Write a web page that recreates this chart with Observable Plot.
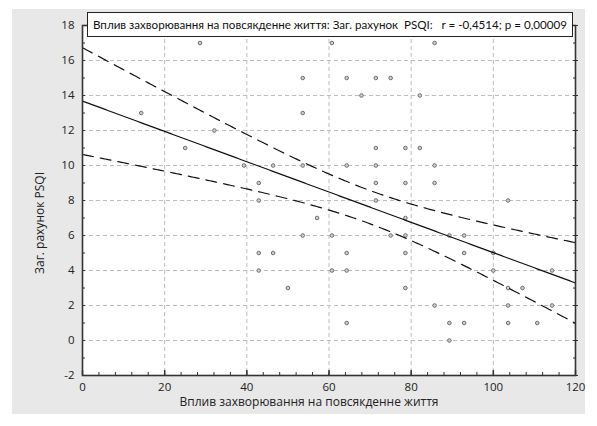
<!DOCTYPE html>
<html><head><meta charset="utf-8">
<script src="https://cdn.jsdelivr.net/npm/d3@7"></script>
<script src="https://cdn.jsdelivr.net/npm/@observablehq/plot@0.6"></script>
<style>
body{margin:0;background:#fff;}
#wrap{position:relative;width:597px;height:426px;overflow:hidden;}
#panel{position:absolute;left:12px;top:9px;width:573px;height:405px;background:#e8e8e8;}
#chart{position:absolute;left:0;top:0;}
</style></head><body>
<div id="wrap"><div id="panel"></div><div id="chart"></div></div>
<script>
const xValues = [14.3, 25, 28.6, 32.1, 39.3,
  42.9, 42.9, 42.9, 42.9, 46.4, 46.4, 50,
  53.6, 53.6, 53.6, 53.6, 57.1, 60.7, 60.7, 60.7,
  64.3, 64.3, 64.3, 64.3, 64.3, 67.9,
  71.4, 71.4, 71.4, 71.4, 71.4, 75, 75,
  78.6, 78.6, 78.6, 78.6, 78.6, 78.6, 82.1, 82.1,
  85.7, 85.7, 85.7, 85.7, 89.3, 89.3, 89.3,
  92.9, 92.9, 92.9, 100, 100,
  103.6, 103.6, 103.6, 103.6, 107.1, 110.7, 114.3, 114.3];
const yValues = [13, 11, 17, 12, 10,
  9, 8, 5, 4, 10, 5, 3,
  15, 13, 10, 6, 7, 17, 6, 4,
  15, 10, 5, 4, 1, 14,
  15, 11, 10, 9, 8, 15, 6,
  11, 9, 7, 6, 5, 3, 14, 11,
  17, 10, 9, 2, 6, 1, 0,
  6, 5, 1, 5, 4,
  8, 3, 2, 1, 3, 1, 4, 2];
// regression line and 95% confidence band
const fitIntercept = 13.68;
const fitSlope = -0.0866;
const bandCenterX = 69.6;
const bandHalfWidthAtCenter = 0.95;
const bandHalfWidthAtZero = 3.05;

const xTicks = [0, 20, 40, 60, 80, 100, 120];
const yTicks = [-2, 0, 2, 4, 6, 8, 10, 12, 14, 16, 18];
const xMinorTicks = [0, 4, 8, 12, 16, 20, 24, 28, 32, 36, 40, 44, 48, 52, 56, 60, 64, 68, 72, 76, 80, 84, 88, 92, 96, 100, 104, 108, 112, 116, 120];
const yMinorTicks = [-2, -1, 0, 1, 2, 3, 4, 5, 6, 7, 8, 9, 10, 11, 12, 13, 14, 15, 16, 17, 18];
const titleText = "Вплив захворювання на повсякденне життя: Заг. рахунок  PSQI:   r = -0,4514; p = 0,00009";
const xLabel = "Вплив захворювання на повсякденне життя";
const yLabel = "Заг. рахунок PSQI";

const points = xValues.map((x, i) => ({x, y: yValues[i]}));
const k = (bandHalfWidthAtZero ** 2 - bandHalfWidthAtCenter ** 2) / (bandCenterX ** 2);
const band = d3.range(0, 120.25, 0.5).map(x => {
  const fit = fitIntercept + fitSlope * x;
  const h = Math.sqrt(bandHalfWidthAtCenter ** 2 + k * (x - bandCenterX) ** 2);
  return {x, fit, lo: fit - h, hi: fit + h};
});

const plot = Plot.plot({
  width: 597, height: 426,
  marginLeft: 82, marginRight: 22, marginTop: 25, marginBottom: 51,
  x: {domain: [0, 120]},
  y: {domain: [-2, 18]},
  style: {background: "transparent", fontFamily: "Open Sans", fontSize: "12px", color: "#222"},
  marks: [
    Plot.frame({fill: "white"}),
    Plot.gridX(xTicks.slice(1, -1), {stroke: "#bdbdbd", strokeOpacity: 1, strokeDasharray: "4,3"}),
    Plot.gridY(yTicks.slice(1, -1), {stroke: "#bdbdbd", strokeOpacity: 1, strokeDasharray: "4,3"}),
    Plot.dot(points, {x: "x", y: "y", r: 1.8, stroke: "#6e6e6e", fill: "#cfcfcf", strokeWidth: 1}),
    Plot.line(band, {x: "x", y: "hi", stroke: "#111", strokeWidth: 1.2, strokeDasharray: "11,7", clip: true}),
    Plot.line(band, {x: "x", y: "lo", stroke: "#111", strokeWidth: 1.2, strokeDasharray: "11,7", clip: true}),
    Plot.line(band, {x: "x", y: "fit", stroke: "#111", strokeWidth: 1.2, clip: true}),
    Plot.frame({stroke: "#333", strokeWidth: 1.6}),
    Plot.axisX(xTicks, {anchor: "bottom", tickSize: 0, tickPadding: 7, label: null, fontSize: 11.5, tickFormat: d => String(d)}),
    Plot.axisY(yTicks, {anchor: "left", tickSize: 0, tickPadding: 8, label: null, fontSize: 11.5, tickFormat: d => String(d)}),
    Plot.axisX(xMinorTicks, {anchor: "bottom", tickSize: -3, text: null, label: null, stroke: "#333"}),
    Plot.axisX(xTicks, {anchor: "bottom", tickSize: -5, text: null, label: null, stroke: "#333", strokeWidth: 1.5}),
    Plot.axisY(yMinorTicks, {anchor: "left", tickSize: -3, text: null, label: null, stroke: "#333"}),
    Plot.axisY(yMinorTicks, {anchor: "right", tickSize: -3, text: null, label: null, stroke: "#333"}),
    Plot.axisY(yTicks, {anchor: "right", tickSize: 2, text: null, label: null, stroke: "#333"})
  ]
});
document.getElementById("chart").appendChild(plot);

const svg = d3.select(plot);
// axis labels
svg.append("text").attr("x", 309).attr("y", 402).attr("dy", "0.35em")
  .attr("text-anchor", "middle").attr("font-size", 12).attr("font-family", "Open Sans").attr("fill", "#222")
  .text(xLabel);
svg.append("text").attr("transform", "translate(40,223) rotate(-90)").attr("dy", "0.35em")
  .attr("text-anchor", "middle").attr("font-size", 12).attr("font-family", "Open Sans").attr("fill", "#222")
  .text(yLabel);
// title box
const g = svg.append("g");
g.append("rect").attr("x", 87.5).attr("y", 12.5).attr("width", 485).attr("height", 24)
  .attr("fill", "white").attr("stroke", "#222").attr("stroke-width", 1);
g.append("text").attr("x", 93).attr("y", 29).attr("font-size", 11.5)
  .attr("text-anchor", "start")
  .attr("font-family", "Lato").attr("fill", "#111")
  .attr("textLength", 474).attr("lengthAdjust", "spacingAndGlyphs")
  .style("white-space", "pre")
  .text(titleText);
</script>
</body></html>
